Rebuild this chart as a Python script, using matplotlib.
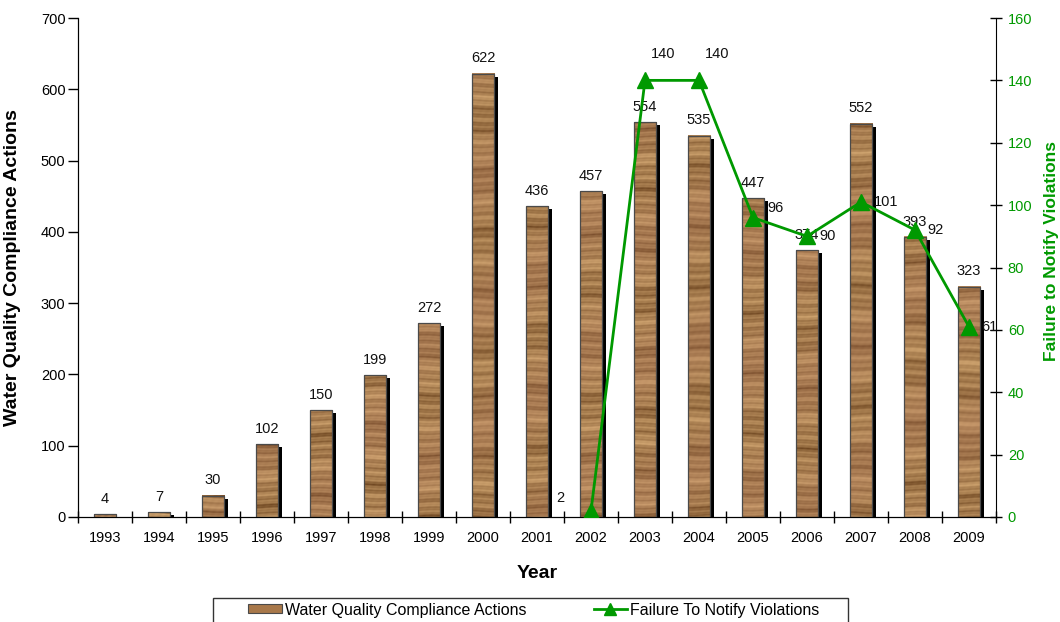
import numpy as np
import matplotlib
matplotlib.use("Agg")
import matplotlib.pyplot as plt
from matplotlib.patches import Rectangle, Patch
from matplotlib.lines import Line2D

plt.rcParams['font.family'] = ['Liberation Sans', 'DejaVu Sans']

# -------------------------------
# DATA
# -------------------------------
years = [1993, 1994, 1995, 1996, 1997, 1998, 1999, 2000, 2001,
         2002, 2003, 2004, 2005, 2006, 2007, 2008, 2009]
compliance_actions = [4, 7, 30, 102, 150, 199, 272, 622, 436,
                      457, 554, 535, 447, 374, 552, 393, 323]
notify_years = [2002, 2003, 2004, 2005, 2006, 2007, 2008, 2009]
notify_violations = [2, 140, 140, 96, 90, 101, 92, 61]

GREEN = '#009900'
FS = 10.5


def wood_texture(h_px, w_px, phase):
    # horizontal wood-grain banding built from a few sine waves
    y = np.arange(h_px)[:, None] + phase
    x = np.arange(w_px)[None, :]
    warp = 0.6 * np.sin(x * 0.12 + y * 0.03)
    yy = y + warp
    v = (0.45 * np.sin(yy * 0.83) + 0.35 * np.sin(yy * 0.31 + 1.3)
         + 0.2 * np.sin(yy * 2.3 + 0.7) + 0.35 * np.sin(yy * 0.113 + phase)
         + 0.05 * np.sin(x * 0.9 + y * 0.5))
    v = (v - v.min()) / (np.ptp(v) + 1e-9)
    v = v ** 0.8
    tint = 0.5 + 0.5 * np.sin(y * 0.05 + 2.0 + x * 0.03)
    dark = np.array([112, 72, 34]) / 255
    light = np.array([208, 165, 112]) / 255
    pink = np.array([178, 118, 98]) / 255
    img = dark + (light - dark) * v[..., None]
    img = img * (1 - 0.22 * tint[..., None]) + pink * 0.22 * tint[..., None]
    return np.clip(img, 0, 1)


fig = plt.figure(figsize=(10.6, 6.22), dpi=100)
ax = fig.add_axes([78 / 1060, 1 - 517 / 622, 918 / 1060, 499 / 622])
ax2 = ax.twinx()

x = np.arange(len(years))
bar_w = 0.42
px_per_unit = 499 / 700
dx = 4 / 54.0
dy = 3 / px_per_unit

# shadow behind each bar
ax.bar(x + dx, [max(v - dy, 0) for v in compliance_actions], width=bar_w,
       color='black', zorder=1.5)

# wood-textured bars
for i, v in enumerate(compliance_actions):
    h_px = max(int(round(v * px_per_unit)), 2)
    tex = wood_texture(h_px, 23, phase=i * 37.0)
    ax.imshow(tex, extent=(x[i] - bar_w / 2, x[i] + bar_w / 2, 0, v),
              aspect='auto', interpolation='bilinear', zorder=2)
ax.bar(x, compliance_actions, width=bar_w, facecolor='none',
       edgecolor='#4a4a4a', linewidth=0.9, zorder=3)

for xi, v in zip(x, compliance_actions):
    ax.annotate(str(v), (xi, v), xytext=(0, 6), textcoords='offset points',
                ha='center', va='bottom', fontsize=FS, color='#111111')

ax.set_xlim(-0.5, len(years) - 0.5)
ax.set_ylim(0, 700)
ax.set_yticks(range(0, 701, 100))
ax.set_xticks(x)
ax.set_xticklabels([str(y) for y in years])
ax.set_xticks(np.arange(-0.5, len(years), 1.0), minor=True)
ax.tick_params(axis='x', which='major', length=0, pad=10, labelsize=FS)
ax.tick_params(axis='x', which='minor', direction='inout', length=8, width=1)
ax.tick_params(axis='y', direction='out', length=7, width=1, pad=2, labelsize=FS)
ax.spines['top'].set_visible(False)
ax.spines['right'].set_visible(False)
ax.set_xlabel('Year', fontsize=14, fontweight='bold')
ax.xaxis.set_label_coords(0.5, -0.096)
ax.set_ylabel('Water Quality Compliance Actions', fontsize=14, fontweight='bold')
ax.yaxis.set_label_coords(-0.062, 0.5)

# failure to notify line
nx = [years.index(y) for y in notify_years]
ax2.plot(nx, notify_violations, color=GREEN, linewidth=2, marker='^',
         markersize=12, zorder=4)
offsets = {2002: (-19, 9, 'right'), 2003: (4, 19, 'left'),
           2004: (4, 19, 'left'), 2005: (10, 7, 'left')}
for yr, xi, v in zip(notify_years, nx, notify_violations):
    ox, oy, ha = offsets.get(yr, (9, 0, 'left'))
    ax2.annotate(str(v), (xi, v), xytext=(ox, oy), textcoords='offset points',
                 ha=ha, va='center', fontsize=FS, color='#111111')

ax2.set_ylim(0, 160)
ax2.set_yticks(range(0, 161, 20))
ax2.tick_params(axis='y', direction='inout', length=9, width=1, pad=4,
                labelsize=FS, labelcolor=GREEN)
ax2.spines['top'].set_visible(False)
ax2.set_ylabel('Failure to Notify Violations', fontsize=12.5, fontweight='bold',
               color=GREEN)
ax2.yaxis.set_label_coords(1.052, 0.533)

# legend box along the bottom edge
fig.patches.append(Rectangle((213 / 1060, -0.05), 635 / 1060, 0.05 + 24 / 622,
                             transform=fig.transFigure, fill=False,
                             edgecolor='#333333', linewidth=1))
handles = [Patch(facecolor='#a8784a', edgecolor='#4a4a4a', linewidth=0.8),
           Line2D([0], [0], color=GREEN, linewidth=2, marker='^', markersize=9)]
fig.legend(handles, ['Water Quality Compliance Actions', 'Failure To Notify Violations'],
           loc='center', bbox_to_anchor=(534 / 1060, 1 - 610 / 622), ncol=2,
           frameon=False, fontsize=11.5, handlelength=2.1, handleheight=0.5,
           handletextpad=0.2, columnspacing=4.2)

fig.savefig('out.png', dpi=100)
